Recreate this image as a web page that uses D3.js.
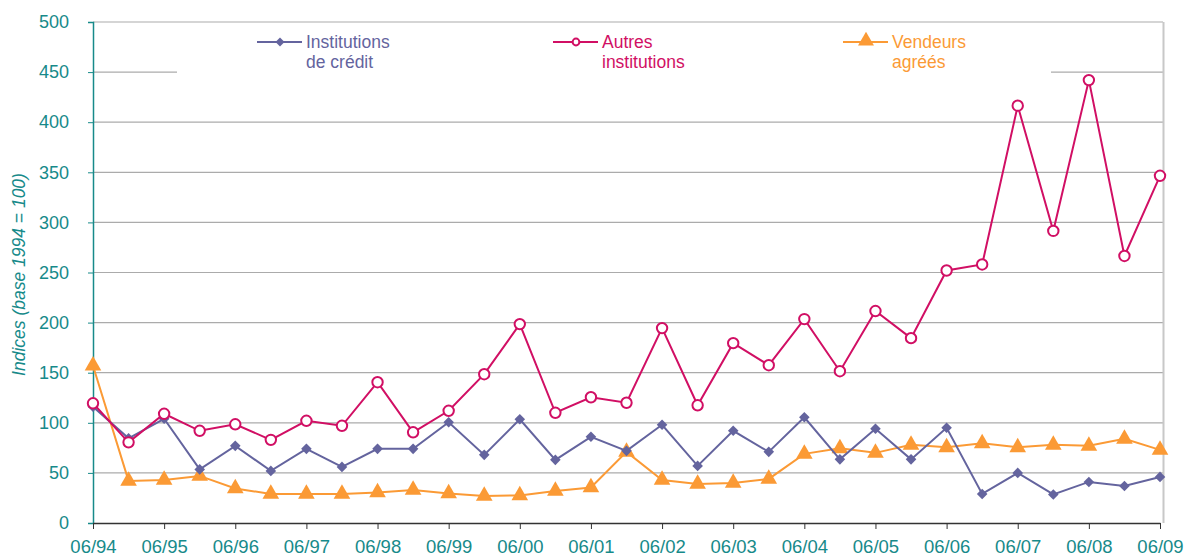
<!DOCTYPE html>
<html>
<head>
<meta charset="utf-8">
<script src="https://cdn.jsdelivr.net/npm/d3@7"></script>
<style>
  body { margin: 0; background: #fff; }
  text { font-family: "Liberation Sans", Arial, sans-serif; }
</style>
</head>
<body>
<div id="chart"></div>
<script>
// half-year periods, 06/94 .. 06/09
const periods = d3.range(31);
const tickLabels = ["06/94", "06/95", "06/96", "06/97", "06/98", "06/99", "06/00", "06/01",
    "06/02", "06/03", "06/04", "06/05", "06/06", "06/07", "06/08", "06/09"];
const yTicks = [0, 50, 100, 150, 200, 250, 300, 350, 400, 450, 500];

const credit = [116, 84.5, 104, 53.5, 77, 52, 74, 56, 74, 74, 100.5, 68, 103.5, 63, 86, 72,
    98, 57, 92, 71, 105.5, 63.5, 94, 63.5, 95, 29, 50, 28.5, 41, 37, 46];
const autres = [119.5, 80.5, 109, 92, 98.5, 83, 102, 97, 140.5, 90.5, 112, 148.5, 198.5, 110,
    125.5, 120, 194.5, 117.5, 179.5, 157.5, 203.5, 151.5, 211.5, 184.5, 252, 258, 416.5, 291.5,
    442, 266.5, 346.5];
const vendeurs = [157, 42, 43, 47, 34.5, 29, 29, 29, 30.5, 33, 29.5, 27, 27.5, 32, 35.5, 71,
    43, 39, 40, 44, 69, 74.5, 70, 78, 75.5, 79.5, 75.5, 78, 77, 84, 73];

const seriesNames = [["Institutions", "de crédit"], ["Autres", "institutions"], ["Vendeurs", "agréés"]];

const teal = "#178a8a";
const colors = ["#64649e", "#d10f64", "#fb9a35"];

const W = 1184, H = 560;
const margin = { left: 93, right: 1160, top: 22, bottom: 523 };

const svg = d3.select("#chart").append("svg")
    .attr("width", W)
    .attr("height", H);

const x = d3.scaleLinear().domain([0, 30]).range([margin.left, margin.right]);
const y = d3.scaleLinear().domain([0, 500]).range([margin.bottom, margin.top]);

// gridlines
svg.append("g")
    .selectAll("line")
    .data(yTicks.filter(d => d > 0))
    .enter()
    .append("line")
    .attr("x1", margin.left).attr("x2", 1163)
    .attr("y1", d => y(d)).attr("y2", d => y(d))
    .attr("stroke", "#ababab")
    .attr("stroke-width", 1.2);

// right border
svg.append("line")
    .attr("x1", 1163.5).attr("x2", 1163.5)
    .attr("y1", margin.top).attr("y2", margin.bottom)
    .attr("stroke", "#c8c8c8")
    .attr("stroke-width", 2);

// legend background covers the 450 gridline
svg.append("rect")
    .attr("x", 177).attr("y", 28)
    .attr("width", 874).attr("height", 48)
    .attr("fill", "#fff");

// Y axis
const yAxis = svg.append("g")
    .attr("transform", "translate(" + margin.left + ",0)")
    .call(d3.axisLeft(y).tickValues(yTicks).tickSize(5).tickPadding(19));
yAxis.select(".domain").attr("stroke", teal).attr("stroke-width", 1.5);
yAxis.selectAll(".tick line").attr("stroke", teal);
yAxis.selectAll(".tick text")
    .attr("fill", teal)
    .style("font-size", "18px");

// X axis
const xAxis = svg.append("g")
    .attr("transform", "translate(0," + margin.bottom + ")")
    .call(d3.axisBottom(x)
        .tickValues(d3.range(0, 31, 2))
        .tickFormat((d, i) => tickLabels[i])
        .tickSize(6)
        .tickPadding(11)
        .tickSizeOuter(0));
xAxis.select(".domain").attr("stroke", "#333").attr("stroke-width", 1.5);
xAxis.selectAll(".tick line").attr("stroke", "#333");
xAxis.selectAll(".tick text")
    .attr("fill", teal)
    .style("font-size", "18.5px");

// Y axis title
svg.append("text")
    .attr("transform", "translate(25," + ((margin.top + margin.bottom) / 2 + 2) + ") rotate(-90)")
    .attr("text-anchor", "middle")
    .attr("fill", teal)
    .style("font-size", "17.5px")
    .style("font-style", "italic")
    .text("Indices (base 1994 = 100)");

const line = d3.line()
    .x((d, i) => x(i))
    .y(d => y(d));

const allSeries = [credit, autres, vendeurs];
const symbols = [
    d3.symbol().type(d3.symbolSquare).size(56),
    d3.symbol().type(d3.symbolCircle).size(85),
    d3.symbol().type(d3.symbolTriangle).size(120)
];
const rot = k => k == 0 ? " rotate(45)" : "";

// order: vendeurs, credit, autres on top
[2, 0, 1].forEach(k => {
    const data = allSeries[k];
    svg.append("path")
        .datum(data)
        .attr("d", line)
        .attr("fill", "none")
        .attr("stroke", colors[k])
        .attr("stroke-width", 2);

    svg.append("g")
        .selectAll("path")
        .data(data)
        .enter()
        .append("path")
        .attr("d", symbols[k])
        .attr("transform", (d, i) => "translate(" + x(i) + "," + y(d) + ")" + rot(k))
        .attr("fill", k == 1 ? "#fff" : colors[k])
        .attr("stroke", k == 1 ? colors[k] : "none")
        .attr("stroke-width", 2);
});

// Legend
const legendX = [257, 553, 843];
const legendSymbols = [
    d3.symbol().type(d3.symbolSquare).size(40),
    d3.symbol().type(d3.symbolCircle).size(36),
    d3.symbol().type(d3.symbolTriangle).size(110)
];
seriesNames.forEach((names, k) => {
    const g = svg.append("g").attr("transform", "translate(" + legendX[k] + ",42)");
    g.append("line")
        .attr("x1", 0).attr("x2", 45)
        .attr("stroke", colors[k])
        .attr("stroke-width", 2);
    g.append("path")
        .attr("d", legendSymbols[k])
        .attr("transform", "translate(23," + (k == 2 ? -1 : 0) + ")" + rot(k))
        .attr("fill", k == 1 ? "#fff" : colors[k])
        .attr("stroke", k == 1 ? colors[k] : "none")
        .attr("stroke-width", 2);
    names.forEach((t, j) => {
        g.append("text")
            .attr("x", 49)
            .attr("y", 6 + j * 20)
            .attr("fill", colors[k])
            .style("font-size", "17.5px")
            .text(t);
    });
});
</script>
</body>
</html>
